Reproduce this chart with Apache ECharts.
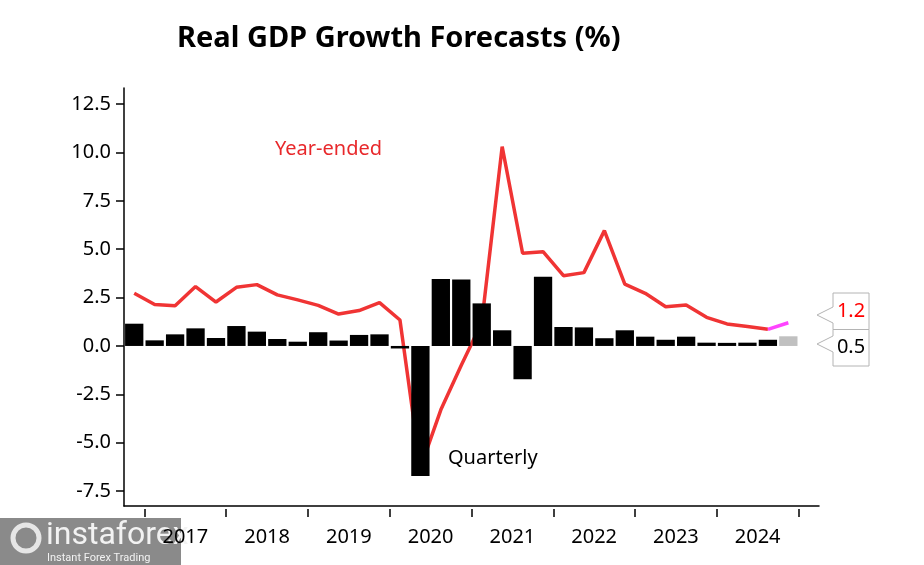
<!DOCTYPE html>
<html><head><meta charset="utf-8">
<script src="https://cdn.jsdelivr.net/npm/echarts@6/dist/echarts.min.js"></script>
<style>html,body{margin:0;padding:0;background:#fff}#c{width:924px;height:565px}</style>
</head><body><div id="c"></div>
<script>
// Quarters 2016Q4 .. 2024Q4 (last one is forecast)
const quarters = ['2016Q4','2017Q1','2017Q2','2017Q3','2017Q4','2018Q1','2018Q2','2018Q3','2018Q4',
  '2019Q1','2019Q2','2019Q3','2019Q4','2020Q1','2020Q2','2020Q3','2020Q4','2021Q1','2021Q2','2021Q3','2021Q4',
  '2022Q1','2022Q2','2022Q3','2022Q4','2023Q1','2023Q2','2023Q3','2023Q4','2024Q1','2024Q2','2024Q3','2024Q4'];
const quarterly = [1.15,0.29,0.60,0.91,0.41,1.03,0.74,0.36,0.22,0.71,0.28,0.57,0.60,-0.13,-6.72,3.46,3.43,2.2,0.81,-1.72,3.57,0.98,0.96,0.40,0.81,0.48,0.32,0.48,0.17,0.16,0.17,0.32];
const quarterlyForecast = [0.5];
const yearEnded = [2.72,2.14,2.08,3.07,2.27,3.03,3.17,2.64,2.38,2.10,1.65,1.83,2.24,1.34,-6.3,-3.3,-1.0,1.2,10.3,4.79,4.87,3.63,3.79,5.96,3.2,2.72,2.03,2.12,1.48,1.14,1.0,0.86];
const yearEndedForecast = [1.2];
const yearLabels = ['2017','2018','2019','2020','2021','2022','2023','2024'];
const yTickValues = [-7.5,-5,-2.5,0,2.5,5,7.5,10,12.5];

const FONT = 'Noto Sans';
const nQ = quarters.length + 1; // axis extends one extra quarter
const chart = echarts.init(document.getElementById('c'), null, {renderer:'canvas'});

const barData = quarterly.map((v,k)=>[k+0.5, v]).concat(
  quarterlyForecast.map((v,j)=>({value:[quarterly.length+j+0.5, v], itemStyle:{color:'#c0c0c0'}})));
const lineData = yearEnded.map((v,k)=>[k+0.5, v]);
const lastK = yearEnded.length-1;
const fcLineData = [[lastK+0.5, yearEnded[lastK]]].concat(yearEndedForecast.map((v,j)=>[lastK+j+1.5, v]));
const yearTicks = yearLabels.map((_,i)=>1+4*i).concat([1+4*yearLabels.length]);
const yearLabelPos = yearLabels.map((_,i)=>3+4*i);

chart.setOption({
  animation:false,
  backgroundColor:'#fff',
  title:{text:'Real GDP Growth Forecasts (%)', left:172, top:19,
    textStyle:{fontFamily:FONT, fontSize:29, fontWeight:'bold', color:'#000'}},
  grid:{left:124, right:105, top:88, bottom:59, outerBoundsMode:'none'},
  xAxis:[{
    type:'value', min:0, max:nQ, position:'bottom',
    axisLine:{show:true, onZero:false, lineStyle:{color:'#000', width:1.5}},
    axisTick:{show:false}, axisLabel:{show:false}, splitLine:{show:false}
  },{
    type:'value', min:0, max:nQ, position:'bottom', offset:3,
    axisLine:{show:false, onZero:false},
    axisTick:{show:true, length:8, customValues:yearTicks, lineStyle:{color:'#000', width:1.5}},
    axisLabel:{show:true, customValues:yearLabelPos, margin:18,
      formatter:(v)=>yearLabels[Math.round((v-3)/4)],
      fontFamily:FONT, fontSize:20, color:'#000'},
    splitLine:{show:false}
  }],
  yAxis:{
    type:'value', min:-8.27, max:13.33,
    axisLine:{show:true, onZero:false, lineStyle:{color:'#000', width:1.5}},
    axisTick:{show:true, length:8, customValues:yTickValues, lineStyle:{color:'#000', width:1.5}},
    axisLabel:{show:true, customValues:yTickValues, margin:13, formatter:(v)=>v.toFixed(1),
      fontFamily:FONT, fontSize:20, color:'#000'},
    splitLine:{show:false}
  },
  series:[
    {type:'line', name:'Year-ended', data:lineData, xAxisIndex:0, symbol:'none', z:2,
      lineStyle:{color:'#f03434', width:3.5}},
    {type:'line', name:'Year-ended forecast', data:fcLineData, xAxisIndex:0, symbol:'none', z:2,
      lineStyle:{color:'#ff44ff', width:3.5}},
    {type:'bar', name:'Quarterly', data:barData, xAxisIndex:0, barWidth:18.3, z:3,
      itemStyle:{color:'#000'}}
  ]
});

function addGraphics(){
  const yHi = chart.convertToPixel({yAxisIndex:0}, yearEndedForecast[yearEndedForecast.length-1]);
  const yLo = chart.convertToPixel({yAxisIndex:0}, quarterlyForecast[quarterlyForecast.length-1]);
  const xEnd = chart.convertToPixel({xAxisIndex:0}, nQ);
  const mid = (yHi + yLo)/2;
  const boxL = xEnd + 14, boxR = xEnd + 50, tipX = xEnd - 2, h = 36.5;
  function box(id, top, bottom, tipY){
    return {id:id, type:'polygon', z:10, shape:{points:[[boxL,top],[boxR,top],[boxR,bottom],[boxL,bottom],[boxL,tipY+8],[tipX,tipY],[boxL,tipY-8]]},
      style:{fill:'#fff', stroke:'#b4b4b4', lineWidth:1}};
  }
  const els = [
    {id:'lblYE', type:'text', x:275, y:139, z:10, style:{text:'Year-ended', fill:'#e8282b', font:'20px "Noto Sans"'}},
    {id:'lblQ', type:'text', x:448, y:448, z:10, style:{text:'Quarterly', fill:'#000', font:'20px "Noto Sans"'}},
    box('box1', mid-h, mid, mid-14.5),
    box('box2', mid, mid+h, mid+14.5),
    {id:'t1', type:'text', z:11, x:(boxL+boxR)/2, y:mid-h/2, style:{text:yearEndedForecast[yearEndedForecast.length-1].toFixed(1), fill:'#ff0000', font:'20px "Noto Sans"', align:'center', verticalAlign:'middle'}},
    {id:'t2', type:'text', z:11, x:(boxL+boxR)/2, y:mid+h/2, style:{text:quarterlyForecast[quarterlyForecast.length-1].toFixed(1), fill:'#000', font:'20px "Noto Sans"', align:'center', verticalAlign:'middle'}},
    // watermark
    {id:'wm', type:'group', x:0, y:518, z:20, children:[
      {type:'rect', shape:{x:0,y:0,width:181,height:47}, style:{fill:'#8a8a8a'}},
      {type:'circle', shape:{cx:26, cy:20, r:13}, style:{fill:'none', stroke:'#e6e6e6', lineWidth:5}},
      {type:'text', x:46, y:2, style:{text:'instaforex', fill:'#f2f2f2', font:'32px "Liberation Sans Narrow", "Roboto"'}},
      {type:'text', x:47, y:35, style:{text:'Instant Forex Trading', fill:'#f2f2f2', font:'11px "Roboto"'}}
    ]}
  ];
  chart.setOption({graphic:els});
}
addGraphics();
</script>
</body></html>
